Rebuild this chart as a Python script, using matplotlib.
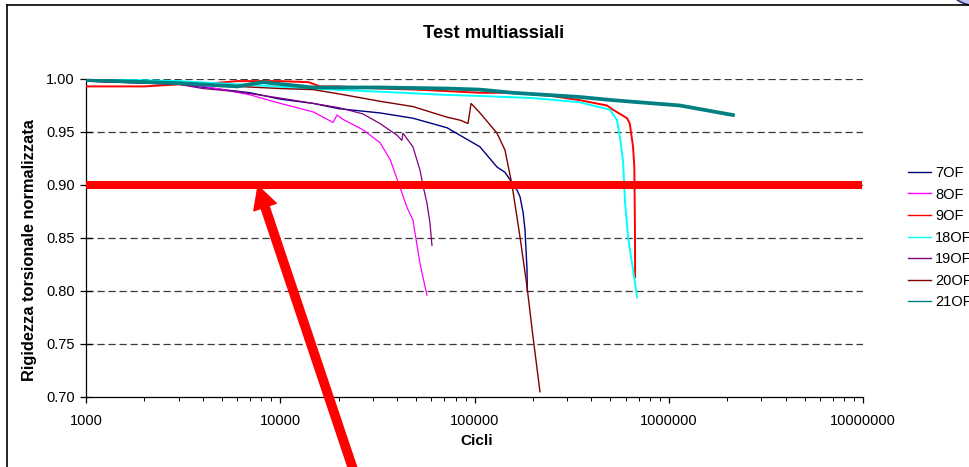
import matplotlib
matplotlib.use("Agg")
import matplotlib.pyplot as plt
import matplotlib.ticker as ticker
import matplotlib.patches as mpatches
from matplotlib.lines import Line2D

plt.rcParams['font.family'] = ['Liberation Sans', 'DejaVu Sans']

# ---------------- data ----------------
labels = ["7OF", "8OF", "9OF", "18OF", "19OF", "20OF", "21OF"]
colors = ["#000080", "#FF00FF", "#FF0000", "#00FFFF", "#800080", "#800000", "#008080"]

x_7OF = [1000, 3000, 7000, 10000, 14750, 20000, 32600, 48200, 72200, 106700,
         130500, 143500, 152300, 157800, 165700, 171500, 177900, 181900, 186400, 187000]
y_7OF = [0.998, 0.995, 0.987, 0.981, 0.977, 0.972, 0.968, 0.963, 0.954, 0.936,
         0.917, 0.912, 0.905, 0.900, 0.895, 0.889, 0.874, 0.858, 0.820, 0.800]

x_8OF = [1000, 2000, 3000, 4000, 5070, 7000, 10000, 14750, 18700, 19600,
         21000, 26700, 32600, 36800, 41300, 44900, 48200, 52400, 56900]
y_8OF = [0.998, 0.997, 0.995, 0.993, 0.990, 0.985, 0.977, 0.969, 0.959, 0.966,
         0.962, 0.952, 0.940, 0.924, 0.898, 0.879, 0.867, 0.826, 0.796]

x_9OF = [1000, 2000, 3050, 4500, 6000, 10000, 14000, 16000, 20000, 32600,
         50000, 106700, 157800, 250000, 349000, 481000, 516800, 610000, 630000,
         655000, 665000, 670000, 671000]
y_9OF = [0.993, 0.993, 0.995, 0.996, 0.998, 0.998, 0.997, 0.993, 0.993, 0.991,
         0.990, 0.987, 0.987, 0.984, 0.980, 0.975, 0.971, 0.963, 0.958,
         0.936, 0.917, 0.860, 0.813]

x_18OF = [1000, 3000, 6000, 14750, 32600, 72200, 106700, 200000, 349000, 498600,
          541800, 561000, 582000, 596000, 617000, 655000, 687000]
y_18OF = [1.000, 0.998, 0.995, 0.991, 0.988, 0.985, 0.984, 0.982, 0.978, 0.971,
          0.961, 0.945, 0.922, 0.883, 0.851, 0.820, 0.794]

x_19OF = [1000, 3000, 4000, 6000, 10000, 14750, 20000, 26700, 32600, 39900,
          42300, 42800, 48200, 52400, 55000, 56900, 59000, 60400]
y_19OF = [0.998, 0.995, 0.991, 0.988, 0.982, 0.977, 0.973, 0.967, 0.958, 0.947,
          0.942, 0.949, 0.936, 0.914, 0.895, 0.883, 0.864, 0.843]

x_20OF = [1000, 3000, 6000, 10000, 14750, 20000, 32600, 48200, 72200, 85000,
          92600, 96000, 106700, 130500, 143500, 156000, 171500, 186400, 200000, 217300]
y_20OF = [0.998, 0.996, 0.993, 0.991, 0.990, 0.986, 0.979, 0.974, 0.964, 0.961,
          0.958, 0.977, 0.968, 0.949, 0.933, 0.900, 0.851, 0.804, 0.757, 0.705]

x_21OF = [1000, 3050, 6000, 8140, 14750, 32600, 72200, 106700, 157800, 349000,
          516800, 1143000, 2140000]
y_21OF = [0.999, 0.996, 0.993, 0.997, 0.992, 0.992, 0.991, 0.990, 0.987, 0.983,
          0.980, 0.975, 0.966]

series_x = [x_7OF, x_8OF, x_9OF, x_18OF, x_19OF, x_20OF, x_21OF]
series_y = [y_7OF, y_8OF, y_9OF, y_18OF, y_19OF, y_20OF, y_21OF]
widths = [1.0, 0.9, 1.4, 1.4, 0.9, 1.0, 2.7]

threshold = 0.90
xticks = [1000, 10000, 100000, 1000000, 10000000]
yticks = [0.70, 0.75, 0.80, 0.85, 0.90, 0.95, 1.00]

title = "Test multiassiali"
xlabel = "Cicli"
ylabel = "Rigidezza torsionale normalizzata"

# ---------------- figure ----------------
W, H = 969, 467
fig = plt.figure(figsize=(W / 100, H / 100), dpi=100)
fig.patch.set_facecolor("white")

ax = fig.add_axes([86 / W, 1 - 397 / H, (863 - 86) / W, (397 - 79) / H])
ax.set_xscale("log")
ax.set_xlim(xticks[0], xticks[-1])
ax.set_ylim(yticks[0], yticks[-1])

for xs, ys, c, lw in zip(series_x, series_y, colors, widths):
    ax.plot(xs, ys, color=c, lw=lw, solid_joinstyle="miter", zorder=3)

# grid
for yt in yticks[1:]:
    ax.axhline(yt, color="#3a3a3a", lw=0.9, dashes=(5.8, 3.0), zorder=1)

# threshold line
ax.axhline(threshold, xmin=0.001, xmax=0.994, color="#FF0000", lw=5.8, zorder=4)

# axes styling
for s in ["top", "right"]:
    ax.spines[s].set_visible(False)
ax.spines["left"].set_color("black")
ax.spines["bottom"].set_color("black")
ax.spines["left"].set_linewidth(0.9)
ax.spines["bottom"].set_linewidth(0.9)

ax.set_xticks(xticks)
ax.xaxis.set_major_formatter(ticker.FuncFormatter(lambda v, p: f"{int(round(v))}"))
ax.xaxis.set_minor_locator(ticker.LogLocator(base=10, subs=range(2, 10), numticks=20))
ax.xaxis.set_minor_formatter(ticker.NullFormatter())
ax.tick_params(axis="x", which="major", direction="out", length=4, width=0.9,
               labelsize=10.5, pad=8)
ax.tick_params(axis="x", which="minor", direction="out", length=3, width=0.7)
ax.set_yticks(yticks)
ax.yaxis.set_major_formatter(ticker.FormatStrFormatter("%.2f"))
ax.tick_params(axis="y", which="major", direction="inout", length=8, width=0.9,
               labelsize=10.5, pad=4)

fig.text(494 / W, 1 - 33 / H, title, ha="center", va="center",
         fontsize=13.2, fontweight="bold")
fig.text(477 / W, 1 - 441 / H, xlabel, ha="center", va="center",
         fontsize=11, fontweight="bold")
fig.text(30 / W, 1 - 250 / H, ylabel, ha="center", va="center", rotation=90,
         fontsize=11.8, fontweight="bold")

# legend
handles = [Line2D([0], [0], color=c, lw=1.0) for c in colors]
fig.legend(handles, labels, loc="upper left", bbox_to_anchor=(908 / W, 1 - 166 / H),
           frameon=False, fontsize=10.5, handlelength=1.6, handletextpad=0.25,
           labelspacing=0.52, borderpad=0, borderaxespad=0)

# outer chart border
fig.add_artist(Line2D([6.5 / W, 6.5 / W], [0, 1 - 5 / H], color="black", lw=1.2,
                      transform=fig.transFigure))
fig.add_artist(Line2D([6.5 / W, 1], [1 - 5 / H, 1 - 5 / H], color="black", lw=1.2,
                      transform=fig.transFigure))

# decoration top right
fig.add_artist(mpatches.Ellipse((978 / W, 1 + 16 / H), 60 / W, 44 / H,
                                facecolor="#c4c4f4", edgecolor="#303060", lw=1.2,
                                transform=fig.transFigure, clip_on=False))

# red arrow
arrow = mpatches.FancyArrowPatch(
    (360 / W, 1 - 490 / H), (258 / W, 1 - 186 / H),
    transform=fig.transFigure,
    arrowstyle=mpatches.ArrowStyle.Simple(head_length=16, head_width=17, tail_width=6),
    mutation_scale=1, color="#FF0000", shrinkA=0, shrinkB=0, zorder=10)
fig.add_artist(arrow)

fig.savefig("out.png", dpi=100, facecolor="white")
